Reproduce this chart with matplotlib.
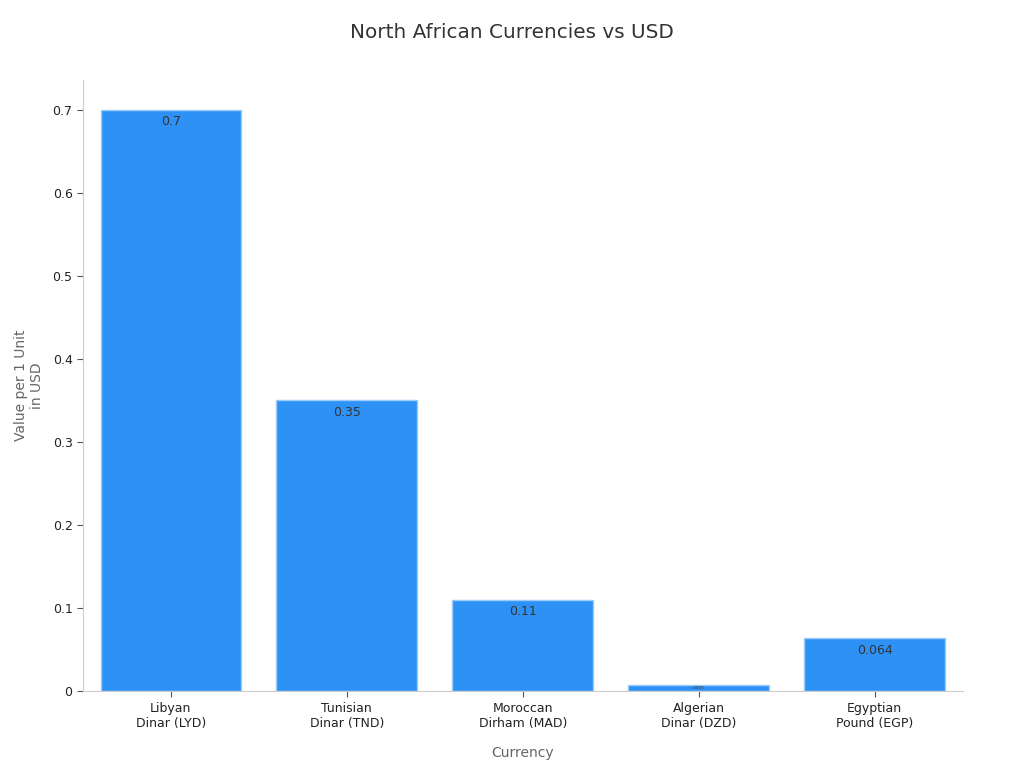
import matplotlib
matplotlib.use('Agg')
import matplotlib.pyplot as plt

currencies = ['Libyan\nDinar (LYD)', 'Tunisian\nDinar (TND)', 'Moroccan\nDirham (MAD)',
              'Algerian\nDinar (DZD)', 'Egyptian\nPound (EGP)']
values = [0.7, 0.35, 0.11, 0.007, 0.064]
value_labels = ['0.7', '0.35', '0.11', '0.007', '0.064']
yticks = [0, 0.1, 0.2, 0.3, 0.4, 0.5, 0.6, 0.7]
ytick_labels = ['0', '0.1', '0.2', '0.3', '0.4', '0.5', '0.6', '0.7']

fig = plt.figure(figsize=(10.24, 7.68), dpi=100)
ax = fig.add_axes([0.081, 0.100, 0.859, 0.796])

x = list(range(len(values)))
bars = ax.bar(x, values, width=0.8, color='#2E91F6', edgecolor='#9ccbf7', linewidth=1)

for b, v, lab in zip(bars, values, value_labels):
    cx = b.get_x() + b.get_width() / 2
    if v < 0.02:
        ax.text(cx, v / 2, lab, ha='center', va='center', fontsize=3, color='#333333')
    else:
        ax.annotate(lab, (cx, v), xytext=(0, -4), textcoords='offset points',
                    ha='center', va='top', fontsize=9, color='#333333')

ax.set_xlim(-0.5, 4.5)
ax.set_ylim(0, 0.736)
ax.set_xticks(x)
ax.set_xticklabels(currencies, fontsize=9, color='#222222')
ax.set_yticks(yticks)
ax.set_yticklabels(ytick_labels, fontsize=9, color='#222222')

for s in ['top', 'right']:
    ax.spines[s].set_visible(False)
for s in ['left', 'bottom']:
    ax.spines[s].set_color('#cccccc')
ax.tick_params(colors='#555555', length=4)
for t in ax.get_xticklabels() + ax.get_yticklabels():
    t.set_color('#222222')

ax.set_xlabel('Currency', fontsize=10, color='#666666', labelpad=12)
ax.set_ylabel('Value per 1 Unit\nin USD', fontsize=10, color='#666666', labelpad=6)
fig.suptitle('North African Currencies vs USD', fontsize=14.4, color='#333333', y=0.97)

fig.savefig('out.png', dpi=100)
